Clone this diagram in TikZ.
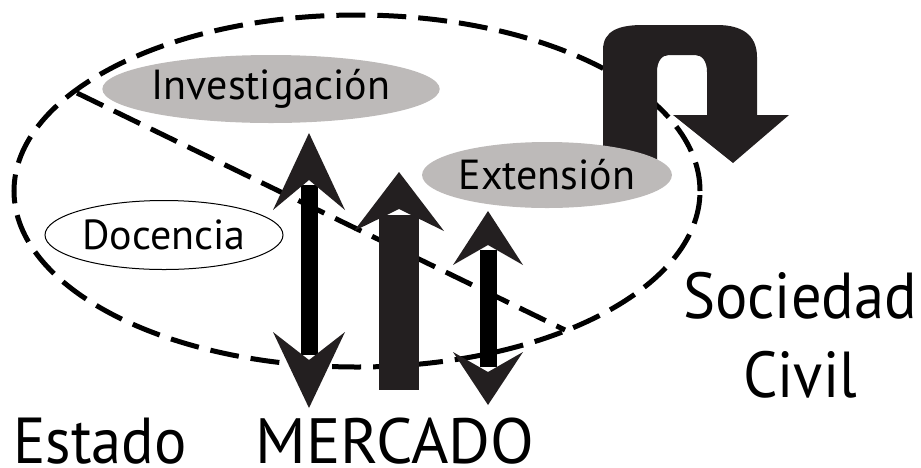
\documentclass[tikz,border=0pt]{standalone}
\usepackage{fontspec}
\setmainfont{PT Sans}
\newfontfamily\narrowsans[FakeStretch=0.93]{PT Sans}
\usepackage{tikz}
\usetikzlibrary{shapes.geometric}
\definecolor{ovalgray}{HTML}{BDBAB9}
\definecolor{arrowblack}{HTML}{231F20}

\begin{document}
\begin{tikzpicture}[x=1pt, y=-1pt,
	oval/.style={shape=ellipse, inner sep=0pt, font=\fontsize{42}{50}\selectfont},
	bigtext/.style={anchor=base, inner sep=0pt, font=\narrowsans\fontsize{65}{78}\selectfont},
	cutline/.style={draw=black, line width=5pt, dash pattern=on 29pt off 12pt}]
	\useasboundingbox (0, 0) rectangle (921, 467);

	\draw[cutline] (357, 191) ellipse [x radius=343pt, y radius=176pt];
	\coordinate (cutL) at (77, 93);
	\coordinate (cutR) at (565, 330);
	\draw[cutline] (cutL) -- (cutR);

	\fill[arrowblack] (603, 160) -- (603, 50) .. controls (603, 30) and (620, 25) .. (643, 25) -- (717, 25) .. controls (742, 25) and (757, 35) .. (757, 57) -- (757, 115) -- (789, 115) -- (733, 163) -- (673, 115) -- (707, 115) -- (707, 72) .. controls (707, 61) and (702, 55) .. (695, 55) -- (669, 55) .. controls (662, 55) and (657, 61) .. (657, 72) -- (657, 160) -- cycle;

	\node[oval, fill=ovalgray, minimum width=297pt, minimum height=68pt] (inv) at (271, 89)  {Investigación};
	\node[oval, fill=ovalgray, minimum width=237pt, minimum height=66pt] (ext) at (547, 175) {Extensión};
	\node[oval, draw=black, line width=1pt, fill=white, minimum width=238pt, minimum height=69pt] (doc) at (164, 235) {Docencia};

	\fill[black] (301, 185) rectangle (318, 355);
	\fill[arrowblack] (309, 133) -- (345, 210) -- (309, 180) -- (273, 210) -- cycle;
	\fill[arrowblack] (309, 408) -- (345, 332) -- (309, 360) -- (273, 332) -- cycle;

	\fill[arrowblack] (379, 215) rectangle (419, 390);
	\fill[arrowblack] (399, 172) -- (444, 231) -- (399, 209) -- (354, 231) -- cycle;

	\fill[black] (480, 250) rectangle (497, 367);
	\fill[arrowblack] (488, 211) -- (523, 265) -- (488, 245) -- (453, 265) -- cycle;
	\fill[arrowblack] (488, 405) -- (523, 352) -- (488, 372) -- (453, 352) -- cycle;

	\node[bigtext] (estado)   at (100, 463) {Estado};
	\node[bigtext, font=\fontsize{64}{77}\selectfont] (mercado)  at (395, 463) {MERCADO};
	\node[bigtext] (sociedad) at (800, 318) {Sociedad};
	\node[bigtext] (civil)    at (800, 397) {Civil};
\end{tikzpicture}
\end{document}
